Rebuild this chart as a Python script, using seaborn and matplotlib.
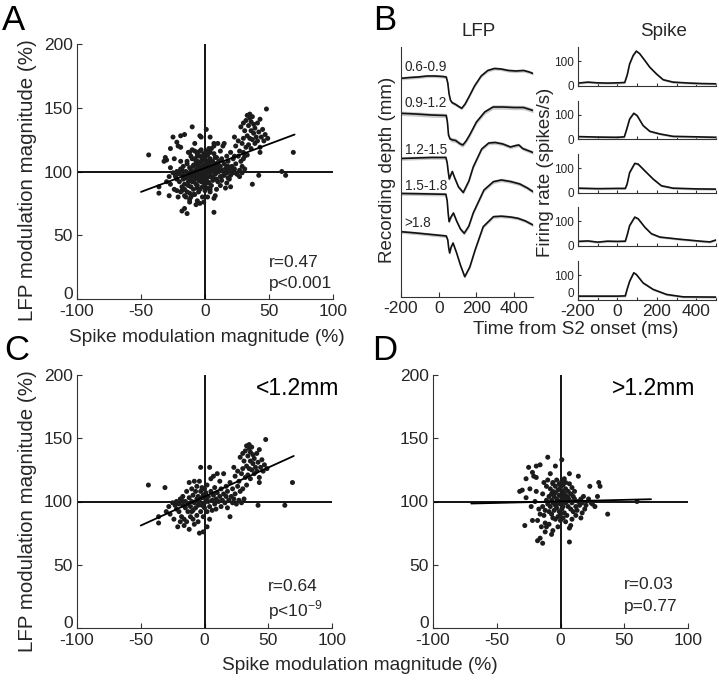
import numpy as np
import matplotlib
matplotlib.use("Agg")
import matplotlib.pyplot as plt
import seaborn as sns

# ---------------- data ----------------
# Panel C: units recorded < 1.2 mm  (spike modulation %, LFP modulation %)
c_pts = np.array([
    (-44, 113), (-31, 111), (-36, 83), (-36, 88), (-30, 92), (-28, 96), (-27, 90), (-25, 99), (-24, 86), (-22, 100),
    (-22, 94), (-20, 92), (-19, 102), (-18, 88), (-17, 97), (-17, 104), (-16, 81), (-15, 95), (-15, 100), (-14, 84),
    (-14, 108), (-13, 92), (-13, 98), (-12, 103), (-12, 78), (-12, 115), (-11, 88), (-11, 96), (-10, 110), (-10, 100),
    (-9, 93), (-9, 105), (-9, 86), (-8, 116), (-8, 99), (-8, 82), (-7, 108), (-7, 95), (-6, 102), (-6, 89),
    (-6, 112), (-5, 97), (-5, 104), (-5, 84), (-4, 116), (-4, 75), (-4, 100), (-3, 127), (-3, 108), (-3, 92),
    (-2, 103), (-2, 97), (-2, 111), (-1, 76), (-1, 88), (-1, 105), (0, 99), (0, 110), (0, 95), (1, 102),
    (1, 107), (2, 80), (2, 92), (2, 113), (3, 100), (3, 104), (4, 127), (4, 96), (4, 86), (5, 118),
    (5, 108), (6, 101), (6, 93), (7, 120), (7, 105), (8, 98), (8, 111), (9, 102), (9, 94), (10, 122),
    (10, 107), (11, 100), (12, 116), (12, 104), (13, 96), (13, 110), (14, 101), (15, 122), (15, 106), (16, 99),
    (17, 112), (17, 104), (18, 95), (18, 108), (19, 101), (20, 88), (20, 115), (21, 104), (22, 99), (22, 110),
    (23, 127), (23, 102), (24, 120), (24, 106), (25, 98), (26, 112), (26, 124), (27, 101), (27, 116), (28, 135),
    (28, 108), (29, 122), (29, 99), (30, 138), (30, 126), (30, 110), (31, 102), (31, 132), (32, 119), (32, 140),
    (33, 144), (33, 128), (33, 113), (34, 136), (34, 121), (35, 142), (35, 126), (35, 145), (36, 132), (36, 139),
    (36, 118), (37, 125), (37, 143), (38, 130), (38, 137), (39, 122), (39, 134), (40, 127), (41, 138), (41, 124),
    (42, 131), (42, 97), (43, 141), (43, 115), (43, 119), (44, 127), (45, 133), (46, 124), (47, 129), (48, 149),
    (49, 126), (63, 97), (69, 115), (-21, 80), (-19, 84), (-16, 86), (-20, 98), (-18, 101), (-23, 97), (-10, 92),
])

# Panel D: units recorded > 1.2 mm
d_pts = np.array([
    (-10, 135), (1, 133), (-16, 129), (-19, 128), (-25, 127), (-4, 128), (-22, 123), (-21, 120), (-27, 118), (-19, 119),
    (-10, 117), (7, 122), (14, 120), (-32, 108), (-27, 103), (-19, 108), (-14, 106), (-6, 114), (23, 112), (30, 115),
    (31, 112), (29, 104), (24, 99), (60, 100), (37, 90), (-28, 81), (-22, 85), (-18, 69), (-16, 71), (-14, 67),
    (7, 68), (-7, 74), (-6, 77), (-11, 80), (-12, 83), (7, 79), (9, 86), (16, 87), (17, 91), (-8, 110),
    (-6, 108), (-4, 112), (-2, 109), (0, 111), (2, 113), (4, 110), (6, 108), (8, 106), (10, 104), (-9, 104),
    (-7, 101), (-5, 104), (-3, 102), (-1, 105), (1, 103), (3, 106), (5, 104), (7, 101), (9, 99), (11, 102),
    (-10, 98), (-8, 96), (-6, 99), (-4, 97), (-2, 100), (0, 98), (2, 101), (4, 99), (6, 96), (8, 94),
    (-9, 92), (-7, 90), (-5, 93), (-3, 95), (-1, 92), (1, 94), (3, 91), (5, 89), (-6, 87), (-4, 86),
    (-2, 88), (0, 85), (2, 87), (4, 84), (-12, 93), (-14, 96), (-13, 89), (-11, 101), (12, 96), (14, 100),
    (16, 102), (18, 104), (20, 97), (13, 93), (-16, 90), (-17, 94), (-18, 85), (-3, 117), (3, 118), (-1, 114),
    (1, 116), (4, 115), (7, 114), (-6, 115), (9, 111), (11, 108), (15, 97), (19, 94), (25, 98), (22, 102),
    (27, 96), (-20, 100), (-23, 96), (-15, 80), (-9, 82), (-2, 80), (8, 81), (-12, 76), (0, 90), (2, 96),
    (-4, 107), (5, 100), (-1, 100), (1, 99), (3, 103), (-7, 106), (10, 92), (12, 89), (17, 99), (-11, 112),
    (-13, 115), (-8, 122), (-24, 110), (-30, 109), (0, 105), (2, 108), (-3, 98), (6, 103),
])

# regression lines (end points)
fit_a_x, fit_a_y = [-50, 70], [84, 129]
fit_c_x, fit_c_y = [-50, 70], [81, 136]
fit_d_x, fit_d_y = [-70, 71], [98.4, 101.8]

stats_a = ["r=0.47", "p<0.001"]
stats_c = ["r=0.64", r"p<10$^{\mathrm{-9}}$"]
stats_d = ["r=0.03", "p=0.77"]

# Panel B, LFP traces (time ms, vertically stacked trace value, arbitrary units)
depth_labels = ["0.6-0.9", "0.9-1.2", "1.2-1.5", "1.5-1.8", ">1.8"]
depth_label_y = [223, 187, 140, 104, 67]

lfp_t1 = [-200, -150, -110, -60, -20, 20, 40, 48, 55, 62, 70, 90, 110, 122, 140, 160, 190, 225, 260, 295, 330, 370, 410, 450, 480, 500]
lfp_v1 = [218.7, 219.5, 220, 221, 221, 220.5, 220, 214, 203, 197, 194.5, 192.5, 190, 188.7, 193, 200, 211, 221, 226.5, 228.5, 228, 226.5, 226, 226.5, 225, 223.5]
lfp_t2 = [-200, -120, -40, 40, 46, 52, 60, 75, 90, 100, 115, 128, 145, 164, 200, 244, 288, 340, 400, 450, 500]
lfp_v2 = [183.7, 183, 182, 181.5, 175, 162, 158, 157, 156.5, 155, 153, 152, 156, 162, 175, 185, 190, 190, 189.5, 189.5, 186.5]
lfp_t3 = [-200, -120, -40, 38, 45, 50, 56, 64, 72, 85, 105, 130, 160, 183, 228, 265, 300, 340, 380, 410, 425, 445, 500]
lfp_v3 = [138.5, 139, 139.5, 139.5, 134, 126, 118, 122, 125.5, 119, 110, 104.5, 116, 130, 148, 154, 154.5, 153, 150, 151.5, 152, 148.5, 144.5]
lfp_t4 = [-200, -120, -40, 38, 45, 50, 55, 65, 78, 95, 115, 135, 160, 183, 240, 290, 332, 380, 430, 470, 500]
lfp_v4 = [103.5, 103.3, 103, 102.7, 96, 84, 75.3, 80, 84, 76, 68, 63.7, 71, 84, 107, 115.3, 117, 115.5, 113, 109, 105.3]
lfp_t5 = [-200, -120, -40, 40, 48, 53, 58, 66, 76, 95, 115, 138, 165, 193, 236, 290, 332, 380, 420, 460, 500]
lfp_v5 = [65.3, 64, 62.5, 61, 57, 49, 44, 50, 54, 44, 32, 20.3, 30, 47, 70.3, 80.3, 80.8, 80, 78.7, 76, 72]
lfp_sem = [1.6, 2.2, 1.8, 1.8, 1.6]

# Panel B, spike PSTHs (time ms, firing rate spikes/s)
psth_t1 = [-200, -150, -100, -50, 0, 37, 50, 62, 80, 96, 113, 139, 164, 198, 232, 282, 367, 430, 500]
psth_r1 = [10, 14, 11, 10, 11, 12.5, 45, 90, 125, 143, 132, 104, 76, 48, 24, 14, 10, 8, 7]
psth_t2 = [-200, -100, 0, 35, 45, 62, 83, 100, 130, 164, 215, 282, 400, 500]
psth_r2 = [10, 8, 7, 9, 35, 83, 107, 97, 56, 32, 21, 11, 9, 7]
psth_t3 = [-200, -100, 0, 40, 49, 62, 88, 105, 139, 181, 223, 282, 400, 500]
psth_r3 = [18, 16, 17, 17, 35, 83, 121, 118, 90, 56, 28, 18, 15, 14]
psth_t4 = [-200, -150, -100, -50, 0, 40, 49, 62, 88, 105, 139, 172, 215, 316, 434, 470, 500]
psth_r4 = [17, 19, 14, 18, 17, 18, 42, 83, 118, 111, 76, 49, 35, 26, 17, 15, 23]
psth_t5 = [-200, -100, 0, 40, 49, 62, 83, 96, 130, 181, 249, 333, 500]
psth_r5 = [14, 14, 14, 15, 42, 76, 111, 104, 69, 42, 21, 11, 10]
psth_sem = [4.5, 4.5, 4.5, 4.5, 4.5]

# ---------------- style ----------------
sns.set_style("ticks")
plt.rcParams['font.family'] = ['Liberation Sans', 'DejaVu Sans']
plt.rcParams['mathtext.fontset'] = 'custom'
plt.rcParams['mathtext.rm'] = 'Liberation Sans'
plt.rcParams['axes.unicode_minus'] = False
plt.rcParams['axes.edgecolor'] = '#333333'
plt.rcParams['axes.linewidth'] = 0.8
for ax_ in ['xtick', 'ytick']:
    plt.rcParams[ax_ + '.direction'] = 'in'
    plt.rcParams[ax_ + '.color'] = '#333333'
    plt.rcParams[ax_ + '.labelcolor'] = '#262626'
    plt.rcParams[ax_ + '.major.size'] = 3.5
    plt.rcParams[ax_ + '.major.width'] = 0.8

INK = '#262626'
W, H = 719, 682
fig = plt.figure(figsize=(W / 100, H / 100), dpi=100)


def px_axes(x0, y0, x1, y1):
    return fig.add_axes([x0 / W, 1 - y1 / H, (x1 - x0) / W, (y1 - y0) / H])


def ftext(x, y, s, **kw):
    fig.text(x / W, 1 - y / H, s, color=kw.pop('color', INK), **kw)


def scatter_panel(ax, pts, fx, fy, stats, r_y, p_y, depth=None):
    ax.axvline(0, color='k', lw=1.3, zorder=1)
    ax.axhline(100, color='k', lw=1.3, zorder=1)
    sns.scatterplot(x=pts[:, 0], y=pts[:, 1], ax=ax, s=13, color='#1c1c1c',
                    edgecolor='none', linewidth=0, zorder=3)
    sns.lineplot(x=fx, y=fy, ax=ax, color='k', lw=1.3, zorder=4)
    ax.set_xlim(-100, 100)
    ax.set_ylim(0, 200)
    ax.set_xticks([-100, -50, 0, 50, 100])
    ax.set_yticks([0, 50, 100, 150, 200])
    ax.tick_params(axis='x', labelsize=12.5, pad=3.5)
    ax.tick_params(axis='y', labelsize=12.5, pad=3)
    # the "0" label sits just above the axis corner, as in the original
    ax.get_yticklabels()[0].set_verticalalignment('baseline')
    sns.despine(ax=ax)
    ax.text(50, r_y, stats[0], fontsize=12.5, color=INK, va='center', ha='left')
    ax.text(50, p_y, stats[1], fontsize=12.5, color=INK, va='center', ha='left')
    if depth:
        ax.text(40, 189, depth, fontsize=16.5, color='k', va='center', ha='left')


# ---- A ----
axA = px_axes(77, 44, 333, 299)
scatter_panel(axA, np.vstack([c_pts, d_pts]), fit_a_x, fit_a_y, stats_a, 28.6, 11.8)
ftext(207, 338, "Spike modulation magnitude (%)", fontsize=13.8, ha='center', va='center')
ftext(28, 180, "LFP modulation magnitude (%)", fontsize=14.8, ha='center', va='center', rotation=90)

# ---- C ----
axC = px_axes(77, 375, 332, 628)
scatter_panel(axC, c_pts, fit_c_x, fit_c_y, stats_c, 33, 14, "<1.2mm")
ftext(28, 511, "LFP modulation magnitude (%)", fontsize=14.8, ha='center', va='center', rotation=90)

# ---- D ----
axD = px_axes(433, 375, 688, 628)
scatter_panel(axD, d_pts, fit_d_x, fit_d_y, stats_d, 34, 17, ">1.2mm")
ftext(360, 666, "Spike modulation magnitude (%)", fontsize=13.8, ha='center', va='center')

# ---- B: LFP ----
axL = px_axes(401, 47, 533, 297)
lfp = [(lfp_t1, lfp_v1), (lfp_t2, lfp_v2), (lfp_t3, lfp_v3), (lfp_t4, lfp_v4), (lfp_t5, lfp_v5)]
for i, (t, v) in enumerate(lfp):
    v = np.asarray(v)
    axL.fill_between(t, v - lfp_sem[i], v + lfp_sem[i], color='#c8c8c8', lw=0, zorder=1)
    sns.lineplot(x=t, y=v, ax=axL, color='#111111', lw=1.2, zorder=2)
    axL.text(-180, depth_label_y[i], depth_labels[i], fontsize=9.8, color=INK, ha='left', va='bottom')
axL.set_xlim(-200, 500)
axL.set_ylim(0, 250)
axL.set_xticks([-200, 0, 200, 400])
axL.set_yticks([])
axL.tick_params(axis='x', labelsize=12.5, pad=3)
sns.despine(ax=axL)

# ---- B: spike PSTHs ----
psth = [(psth_t1, psth_r1), (psth_t2, psth_r2), (psth_t3, psth_r3), (psth_t4, psth_r4), (psth_t5, psth_r5)]
tops = [47, 100.5, 154, 207, 261]
for i, (t, r) in enumerate(psth):
    ax = px_axes(578, tops[i], 716, tops[i] + 38.5)
    r = np.asarray(r)
    ax.fill_between(t, r - psth_sem[i], r + psth_sem[i], color='#c8c8c8', lw=0, zorder=1)
    sns.lineplot(x=t, y=r, ax=ax, color='#111111', lw=1.2, zorder=2)
    ax.set_xlim(-200, 500)
    ax.set_ylim(0, 160)
    ax.set_yticks([0, 100])
    ax.set_xticks(np.arange(-200, 501, 100))
    ax.tick_params(axis='y', labelsize=8.5, pad=3, length=2.5)
    ax.tick_params(axis='x', labelsize=12.5, pad=3.5, length=2.5)
    if i == 4:
        ax.set_xticklabels(['-200', '', '0', '', '200', '', '400', ''])
        ax.get_yticklabels()[0].set_verticalalignment('bottom')
    else:
        ax.set_xticklabels([])
    sns.despine(ax=ax)

ftext(479, 32, "LFP", fontsize=13.5, ha='center', va='center')
ftext(664, 32, "Spike", fontsize=13.5, ha='center', va='center')
ftext(387, 170, "Recording depth (mm)", fontsize=13.5, ha='center', va='center', rotation=90)
ftext(545, 172, "Firing rate (spikes/s)", fontsize=13.5, ha='center', va='center', rotation=90)
ftext(576, 330, "Time from S2 onset (ms)", fontsize=13.5, ha='center', va='center')

# panel letters
for letter, (x, y) in zip("ABCD", [(14, 20), (385, 20), (17, 350), (385, 350)]):
    ftext(x, y, letter, fontsize=25, ha='center', va='center', color='k')

fig.savefig("out.png", dpi=100)
